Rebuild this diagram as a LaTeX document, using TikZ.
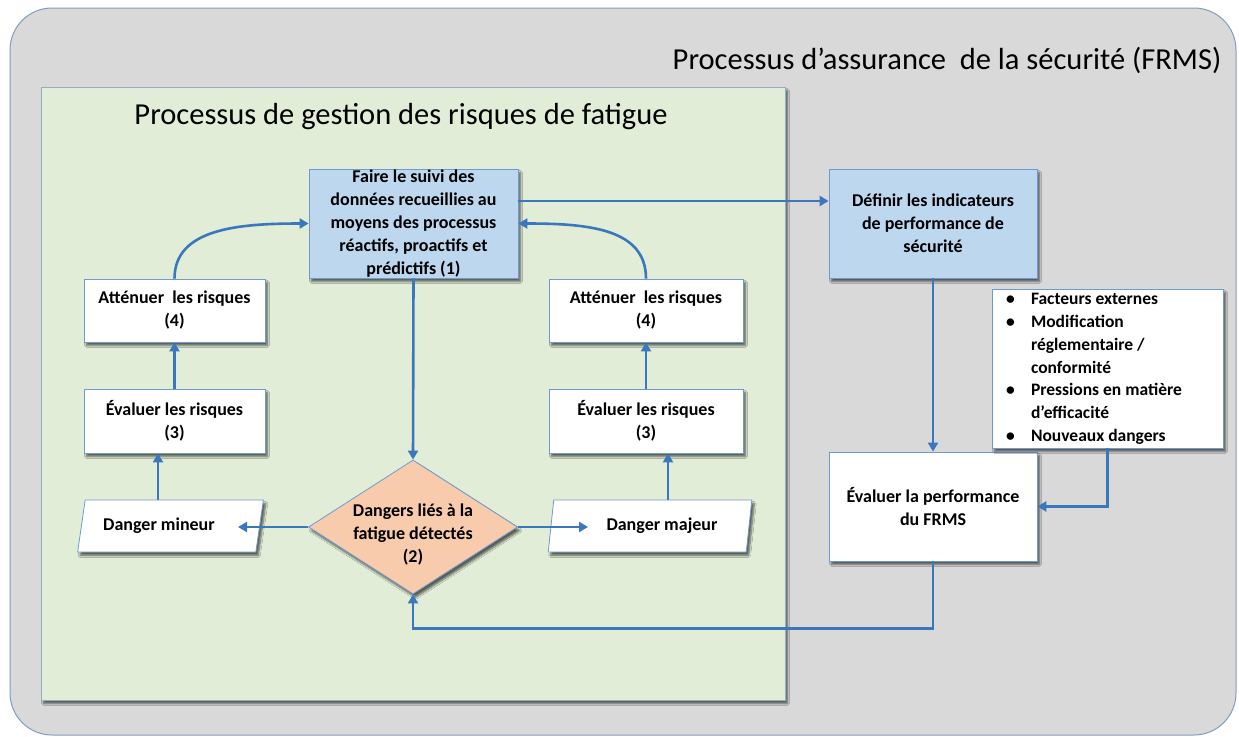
\documentclass[tikz,border=0pt]{standalone}
\usepackage{fontspec}
\setmainfont{Carlito}
\usetikzlibrary{arrows.meta,shapes.geometric,shadows.blur,calc}

\definecolor{outerfill}{HTML}{D9D9D9}
\definecolor{outeredge}{HTML}{7F9DC0}
\definecolor{panelfill}{HTML}{E1EDD7}
\definecolor{paneledge}{HTML}{8FAFC6}
\definecolor{bluefill}{HTML}{BDD7EE}
\definecolor{boxedge}{HTML}{6E9BCF}
\definecolor{peach}{HTML}{F8CBAD}
\definecolor{flowblue}{HTML}{3A77BD}

\begin{document}
\begin{tikzpicture}[x=1pt,y=-1pt,
  shadowed/.style={blur shadow={shadow xshift=2.5pt,shadow yshift=-3.5pt,shadow blur steps=6,shadow opacity=60}},
  boxtext/.style={font=\bfseries\fontsize{18}{23}\selectfont,align=center},
  whitebox/.style={rectangle,draw=boxedge,line width=0.8pt,fill=white,inner sep=0pt,boxtext,shadowed},
  bluebox/.style={whitebox,fill=bluefill},
  decision/.style={diamond,aspect=1.56,draw=boxedge,line width=0.8pt,fill=peach,inner sep=0pt,
    minimum width=209pt,minimum height=134pt,boxtext,shadowed},
  inputbox/.style={trapezium,trapezium left angle=76,trapezium right angle=104,trapezium stretches=true,
    draw=boxedge,line width=0.8pt,fill=white,minimum height=52pt,inner sep=0pt,boxtext,shadowed},
  flow/.style={draw=flowblue,line width=2.6pt,-{Triangle[length=9pt,width=10pt]}},
  heading/.style={font=\fontsize{30.5}{34}\selectfont,inner sep=0pt}
]
\useasboundingbox (0,0) rectangle (1239,736);

% outer container: safety assurance process
\node[rectangle,fill=outerfill,draw=outeredge,line width=1pt,rounded corners=42pt,
  minimum width=1226pt,minimum height=727pt] (outer) at (623,371.5) {};
\node[heading] (titleA) at (947,60) {Processus d’assurance\ \ de la sécurité (FRMS)};

% inner panel: fatigue risk management process
\node[rectangle,fill=panelfill,draw=paneledge,line width=0.8pt,minimum width=744pt,minimum height=613pt,
  shadowed] (panel) at (413,393.5) {};
\node[heading] (titleB) at (401,117) {Processus de gestion des risques de fatigue};

% process steps
\node[bluebox,minimum width=209pt,minimum height=109pt] (suivi) at (413.5,223.5)
  {Faire le suivi des\\données recueillies au\\moyens des processus\\réactifs, proactifs et\\prédictifs (1)};
\node[bluebox,minimum width=208pt,minimum height=109pt] (indic) at (933,223.5)
  {Définir les indicateurs\\de performance de\\sécurité};

\node[whitebox,minimum width=181pt,minimum height=63pt] (attL) at (174.5,310.5) {Atténuer\ \ les risques\\(4)};
\node[whitebox,minimum width=181pt,minimum height=64pt] (evalL) at (174.5,421) {Évaluer les risques\\(3)};
\node[whitebox,minimum width=194pt,minimum height=63pt] (attR) at (646,310.5) {Atténuer\ \ les risques\\(4)};
\node[whitebox,minimum width=194pt,minimum height=64pt] (evalR) at (646,421) {Évaluer les risques\\(3)};

\node[decision] (danger) at (413,527)
  {\makebox[0pt]{\raisebox{-24pt}{\smash{\begin{tabular}{@{}c@{}}Dangers liés à la\\fatigue détectés\\(2)\end{tabular}}}}};

\node[inputbox,minimum width=187pt] (mineur) at (170.5,526) {\hspace*{-23pt}Danger mineur};
\node[inputbox,minimum width=204pt] (majeur) at (650,526) {\hspace*{24pt}Danger majeur};

\node[whitebox,minimum width=208pt,minimum height=109pt] (perf) at (933,506.5) {Évaluer la performance\\du FRMS};

\node[whitebox,minimum width=231pt,minimum height=159pt,align=left,
  font=\bfseries\fontsize{17.5}{22.7}\selectfont] (facteurs) at (1107.5,368.5)
  {\begin{tabular}{@{\hspace{14pt}}p{25pt}@{}p{192pt}@{}}
   \textbullet & Facteurs externes\\
   \textbullet & Modification\newline réglementaire /\newline conformité\\
   \textbullet & Pressions en matière\newline d’efficacité\\
   \textbullet & Nouveaux dangers
   \end{tabular}};

% arrow ends inside the input boxes
\coordinate (mineurTip) at (238,527);
\coordinate (majeurTip) at (588,527);

% connectors
\draw[flow] (suivi.south) -- (danger.north);
\draw[flow] (danger.west) -- (mineurTip);
\draw[flow] (danger.east) -- (majeurTip);
\draw[flow] ([xshift=-12.5pt]mineur.north) -- ([xshift=-12.5pt]mineur.north |- evalL.south);
\draw[flow] ([xshift=18pt]majeur.north) -- ([xshift=18pt]majeur.north |- evalR.south);
\draw[flow] (evalL.north) -- (attL.south);
\draw[flow] (evalR.north) -- (attR.south);
\draw[flow] (attL.north) .. controls +(0,-50) and +(-70,0) .. (suivi.west);
\draw[flow] (attR.north) .. controls +(0,-50) and +(70,0) .. (suivi.east);
\draw[flow] ([yshift=22.5pt]suivi.east) -- ([yshift=22.5pt]indic.west);
\draw[flow] (indic.south) -- (perf.north);
\draw[flow] (facteurs.south) |- (perf.east);
\draw[flow] (perf.south) -- ++(0,67) -| (danger.south);
\end{tikzpicture}
\end{document}
